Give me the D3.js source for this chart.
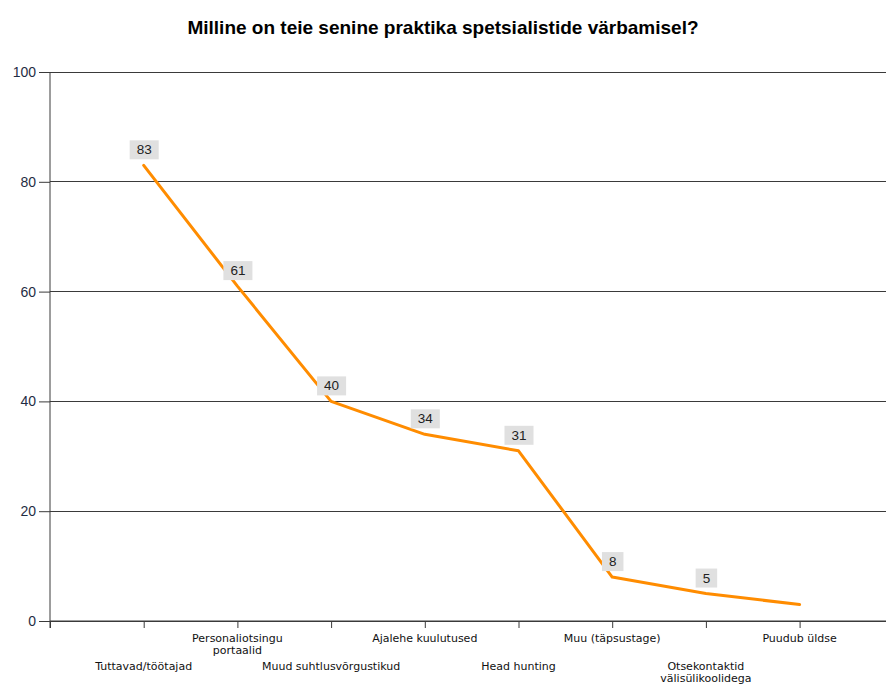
<!DOCTYPE html>
<html>
<head>
<meta charset="utf-8">
<script src="https://cdn.jsdelivr.net/npm/d3@7"></script>
<style>
  html, body { margin: 0; padding: 0; background: #fff; }
  svg { display: block; font-family: "Liberation Sans", Arial, sans-serif; }
</style>
</head>
<body>
<svg id="chart" width="886" height="686"></svg>
<script>
// Recruitment channels and share of respondents (%)
const categories = [
  "Tuttavad/töötajad",
  "Personaliotsingu portaalid",
  "Muud suhtlusvõrgustikud",
  "Ajalehe kuulutused",
  "Head hunting",
  "Muu (täpsustage)",
  "Otsekontaktid välisülikoolidega",
  "Puudub üldse"
];
const values = [83, 61, 40, 34, 31, 8, 5, 3];
const showLabel = [true, true, true, true, true, true, true, false];
// Label lines (wrapped text per category)
const labelLines = [
  ["Tuttavad/töötajad"],
  ["Personaliotsingu", "portaalid"],
  ["Muud suhtlusvõrgustikud"],
  ["Ajalehe kuulutused"],
  ["Head hunting"],
  ["Muu (täpsustage)"],
  ["Otsekontaktid", "välisülikoolidega"],
  ["Puudub üldse"]
];
const yTicks = [0, 20, 40, 60, 80, 100];
const title = "Milline on teie senine praktika spetsialistide värbamisel?";

const svg = d3.select("#chart");
const plotLeft = 50, plotTop = 72, plotBottom = 621, plotRight = 886;

// Category positions sit on integer steps; the frame spans 0..9 steps
const x = d3.scaleLinear().domain([0, 9]).range([plotLeft, plotLeft + 9 * 93.7]);
const y = d3.scaleLinear().domain([0, 100]).range([plotBottom, plotTop]);

// Title
svg.append("text")
  .attr("x", 443).attr("y", 34)
  .attr("text-anchor", "middle")
  .attr("font-family", "Liberation Sans, Arial, sans-serif")
  .attr("font-size", 19).attr("font-weight", "bold")
  .attr("fill", "#000")
  .text(title);

// Horizontal gridlines
svg.append("g").selectAll("line").data(yTicks).join("line")
  .attr("x1", plotLeft).attr("x2", plotRight)
  .attr("y1", d => y(d)).attr("y2", d => y(d))
  .attr("stroke", "#3a3a3a").attr("stroke-width", 1)
  .attr("shape-rendering", "crispEdges");

// Y axis
const yAxis = svg.append("g")
  .attr("transform", `translate(${plotLeft},0)`)
  .call(d3.axisLeft(y).tickValues(yTicks).tickSize(11).tickPadding(3));
yAxis.select(".domain").attr("stroke", "#3a3a3a").attr("d", `M0,${plotTop}V${plotBottom + 7}`);
yAxis.selectAll(".tick line").attr("stroke", "#3a3a3a");
yAxis.selectAll(".tick text")
  .attr("font-size", 14).attr("fill", "#1f2d44")
  .attr("font-family", "Liberation Sans, Arial, sans-serif");

// X axis ticks
const xTickVals = d3.range(0, 9);
const xAxis = svg.append("g")
  .attr("transform", `translate(0,${plotBottom})`)
  .call(d3.axisBottom(x).tickValues(xTickVals).tickSize(7).tickFormat(""));
xAxis.select(".domain").attr("stroke", "#3a3a3a").attr("d", `M${plotLeft},0H${plotRight}`);
xAxis.selectAll(".tick line").attr("stroke", "#3a3a3a");

// Category labels, staggered over two rows
const labelG = svg.append("g");
categories.forEach((c, i) => {
  const row = i % 2 === 0 ? 1 : 0;
  const baseY = row === 0 ? 642 : 670;
  const t = labelG.append("text")
    .attr("x", x(i + 1)).attr("y", baseY)
    .attr("text-anchor", "middle")
    .attr("font-family", "DejaVu Sans, sans-serif")
    .attr("font-size", 11).attr("fill", "#111");
  labelLines[i].forEach((ln, k) => {
    t.append("tspan").attr("x", x(i + 1)).attr("dy", k === 0 ? 0 : 12).text(ln);
  });
});

// Series line
const line = d3.line().x((d, i) => x(i + 1)).y(d => y(d));
svg.append("path")
  .datum(values)
  .attr("d", line)
  .attr("fill", "none")
  .attr("stroke", "#ff8c00")
  .attr("stroke-width", 3)
  .attr("stroke-linejoin", "round")
  .attr("stroke-linecap", "round");

// Value labels with grey background boxes
const lab = svg.append("g");
values.forEach((v, i) => {
  if (!showLabel[i]) return;
  const cx = x(i + 1) + 0.5, by = y(v) - 6;
  const g = lab.append("g");
  const t = g.append("text")
    .attr("x", cx).attr("y", by - 5)
    .attr("text-anchor", "middle")
    .attr("font-size", 13.5).attr("fill", "#222")
    .text(v);
  const w = t.node().getComputedTextLength() + 14;
  g.insert("rect", "text")
    .attr("x", cx - w / 2).attr("y", by - 19)
    .attr("width", w).attr("height", 19)
    .attr("fill", "#e0e0e0");
});
</script>
</body>
</html>
